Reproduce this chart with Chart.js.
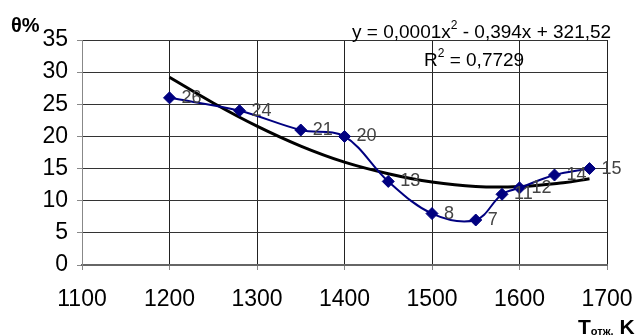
<!DOCTYPE html>
<html>
<head>
<meta charset="utf-8">
<script src="https://cdn.jsdelivr.net/npm/chart.js@4"></script>
<style>
  html, body { margin: 0; padding: 0; background: #fff; }
  #wrap { width: 641px; height: 336px; position: relative; }
</style>
</head>
<body>
<div id="wrap"><canvas id="myChart" width="641" height="336"></canvas></div>
<script>
const temps = [1200, 1280, 1350, 1400, 1450, 1500, 1550, 1580, 1600, 1640, 1680];
const theta = [26, 24, 21, 20, 13, 8, 7, 11, 12, 14, 15];
const trendX = [1200, 1250, 1300, 1350, 1400, 1450, 1500, 1550, 1600, 1650, 1680];
const trendY = [29.2, 25.2, 21.6, 18.5, 16.0, 14.2, 12.9, 12.2, 12.2, 12.8, 13.4];
const xTicks = [1100, 1200, 1300, 1400, 1500, 1600, 1700];
const yTicks = [0, 5, 10, 15, 20, 25, 30, 35];

const FONT = "'Liberation Sans Narrow', 'Arial Narrow', 'Liberation Sans', Arial, sans-serif";

const textPlugin = {
  id: "texts",
  afterDatasetsDraw(chart) {
    const ctx = chart.ctx;
    ctx.save();
    // point value labels
    const meta = chart.getDatasetMeta(0);
    ctx.fillStyle = "#444";
    ctx.font = "18px " + FONT;
    ctx.textAlign = "left";
    ctx.textBaseline = "middle";
    meta.data.forEach((pt, i) => {
      ctx.fillText(String(theta[i]), pt.x + 12, pt.y);
    });

    ctx.fillStyle = "#000";
    ctx.textBaseline = "alphabetic";
    // equation
    ctx.font = "19px " + FONT;
    let x = 352, y = 38;
    const parts1 = "y = 0,0001x";
    ctx.fillText(parts1, x, y);
    x += ctx.measureText(parts1).width;
    ctx.font = "12px " + FONT;
    ctx.fillText("2", x, y - 9);
    x += ctx.measureText("2").width;
    ctx.font = "19px " + FONT;
    ctx.fillText(" - 0,394x + 321,52", x, y);

    x = 424; y = 66;
    ctx.fillText("R", x, y);
    x += ctx.measureText("R").width;
    ctx.font = "12px " + FONT;
    ctx.fillText("2", x, y - 9);
    x += ctx.measureText("2").width;
    ctx.font = "19px " + FONT;
    ctx.fillText(" = 0,7729", x, y);

    // axis titles
    ctx.font = "bold 20px " + FONT;
    ctx.fillText("θ%", 11, 32);
    x = 578; y = 334;
    ctx.font = "bold 21px " + FONT;
    ctx.fillText("T", x, y);
    x += ctx.measureText("T").width;
    ctx.font = "bold 11px " + FONT;
    ctx.fillText("отж.", x, y + 1);
    x += ctx.measureText("отж.").width;
    ctx.font = "bold 21px " + FONT;
    ctx.fillText(" K", x, y);
    ctx.restore();
  }
};

const ctx = document.getElementById("myChart").getContext("2d");
new Chart(ctx, {
  type: "line",
  data: {
    datasets: [
      {
        label: "θ",
        data: temps.map((t, i) => ({ x: t, y: theta[i] })),
        borderColor: "#000080",
        backgroundColor: "#000080",
        borderWidth: 2,
        pointStyle: "rectRot",
        pointRadius: 6,
        pointBorderWidth: 1,
        tension: 0.35,
        order: 1
      },
      {
        label: "trend",
        data: trendX.map((t, i) => ({ x: t, y: trendY[i] })),
        borderColor: "#000",
        borderWidth: 3,
        pointRadius: 0,
        tension: 0.4,
        order: 2
      }
    ]
  },
  options: {
    responsive: false,
    animation: false,
    layout: { padding: { top: 40, right: 34, left: 0, bottom: 0 } },
    plugins: {
      legend: { display: false },
      tooltip: { enabled: false }
    },
    scales: {
      x: {
        type: "linear",
        min: 1100,
        max: 1700,
        afterBuildTicks: (s) => { s.ticks = xTicks.map(v => ({ value: v })); },
        afterFit: (s) => { s.height = 71; s.paddingLeft = 0; s.paddingRight = 0; },
        grid: { color: "#222", lineWidth: 1, tickLength: 5, tickColor: "#888" },
        border: { color: "#666", width: 2 },
        ticks: {
          color: "#000", font: { family: FONT, size: 23 }, padding: 16, maxRotation: 0,
          callback: (v) => String(v)
        }
      },
      y: {
        min: 0,
        max: 35,
        afterBuildTicks: (s) => { s.ticks = yTicks.map(v => ({ value: v })); },
        afterFit: (s) => { s.width = 82; },
        grid: { color: "#333", lineWidth: 1, tickLength: 5, tickColor: "#888" },
        border: { color: "#888", width: 1 },
        ticks: { color: "#000", font: { family: FONT, size: 23 }, padding: 9 }
      }
    }
  },
  plugins: [textPlugin]
});
</script>
</body>
</html>
